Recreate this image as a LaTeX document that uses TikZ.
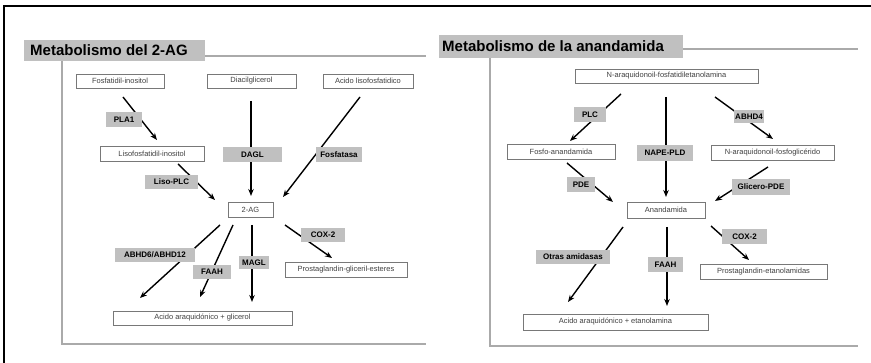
\documentclass[tikz,border=0pt]{standalone}
\usepackage{fontspec}
\setmainfont{Liberation Sans}
\usepackage{tikz}
\usetikzlibrary{arrows.meta,positioning,calc}
\usepackage{xcolor}

\definecolor{labgray}{RGB}{192,192,192}
\definecolor{linegray}{RGB}{170,170,170}
\definecolor{boxgray}{RGB}{120,120,120}

\tikzset{
  sbox/.style={draw=boxgray, fill=white, line width=0.8pt, inner sep=0pt,
    text=black!75, font=\fontsize{7.5}{8}\selectfont},
  enz/.style={fill=labgray, inner sep=0pt, font=\fontsize{8}{9}\selectfont\bfseries},
  arr/.style={-{Stealth[length=7pt,width=5.5pt]}, line width=1.4pt},
  panel/.style={draw=linegray, line width=1.5pt},
  ttl/.style={fill=labgray, inner sep=0pt, font=\fontsize{15}{16}\selectfont\bfseries}
}

\begin{document}
\begin{tikzpicture}[x=1pt,y=-1pt]
  \useasboundingbox (0,0) rectangle (871,363);
  % outer frame
  \draw[line width=2.5pt] (4,363) -- (4,6) -- (871,6);

  % ---- left panel: 2-AG
  \node[ttl, minimum width=181, minimum height=21] (t1) at (114.5,50.5) {};
  \node[ttl, fill=none, anchor=west] (t1txt) at (30,50.5) {Metabolismo del 2-AG};
  \draw[panel] (t1.east |- 0,56) -- (426,56);
  \draw[panel] (62,61) -- (62,344) -- (426,344);

  % substrates and products
  \node[sbox, minimum width=88, minimum height=14] (fi) at (120,81) {Fosfatidil-inositol};
  \node[sbox, minimum width=89, minimum height=14] (dag) at (251.5,81) {Diacilglicerol};
  \node[sbox, minimum width=90, minimum height=14] (alf) at (368,81) {Acido lisofosfatidico};
  \node[sbox, minimum width=104, minimum height=15] (lfi) at (152,153.5) {Lisofosfatidil-inositol};
  \node[sbox, minimum width=45, minimum height=15] (ag) at (250.5,209.5) {2-AG};
  \node[sbox, minimum width=122, minimum height=15] (pge) at (346,269.5) {Prostaglandin-gliceril-esteres};
  \node[sbox, minimum width=179, minimum height=14] (aag) at (202.5,318) {Acido araquidónico + glicerol};

  % arrow ends
  \coordinate (pla1a) at (123,97);   \coordinate (pla1b) at (157,140);
  \coordinate (dagla) at (251,101);  \coordinate (daglb) at (251,196);
  \coordinate (fosfa) at (360,97);   \coordinate (fosfb) at (283,197);
  \coordinate (lplca) at (178,164);  \coordinate (lplcb) at (215,200);
  \coordinate (abhda) at (220,225);  \coordinate (abhdb) at (140,298);
  \coordinate (faaha) at (233,225);  \coordinate (faahb) at (200,297);
  \coordinate (magla) at (252,225);  \coordinate (maglb) at (252,302);
  \coordinate (coxa) at (285,225);   \coordinate (coxb) at (332,258);
  \foreach \s in {pla1,dagl,fosf,lplc,abhd,faah,magl,cox}
    \draw[arr] (\s a) -- (\s b);

  % enzymes
  \node[enz, minimum width=36, minimum height=15] (pla1) at (124,119.5) {PLA1};
  \node[enz, minimum width=59, minimum height=15] (dagl) at (252.5,154.5) {DAGL};
  \node[enz, minimum width=46, minimum height=15] (fosf) at (339,154.5) {Fosfatasa};
  \node[enz, minimum width=53, minimum height=14] (lplc) at (171.5,182) {Liso-PLC};
  \node[enz, minimum width=80, minimum height=14] (abhd) at (155,255) {ABHD6/ABHD12};
  \node[enz, minimum width=38, minimum height=14] (faah) at (212,272) {FAAH};
  \node[enz, minimum width=30, minimum height=13] (magl) at (254,262.5) {MAGL};
  \node[enz, minimum width=44, minimum height=14] (cox) at (323,235) {COX-2};

  % ---- right panel: anandamida
  \node[ttl, minimum width=244, minimum height=23] (t2) at (561,46.5) {};
  \node[ttl, fill=none, anchor=west] (t2txt) at (442,46.5) {Metabolismo de la anandamida};
  \draw[panel] (t2.east |- 0,49) -- (858,49);
  \draw[panel] (490,58) -- (490,346) -- (858,346);

  \node[sbox, minimum width=183, minimum height=14] (nape) at (666.5,76) {N-araquidonoil-fosfatidiletanolamina};
  \node[sbox, minimum width=108, minimum height=15] (fa) at (561,151.5) {Fosfo-anandamida};
  \node[sbox, minimum width=123, minimum height=15] (nafg) at (772.5,152.5) {N-araquidonoil-fosfoglicérido};
  \node[sbox, minimum width=78, minimum height=16] (ana) at (666,210) {Anandamida};
  \node[sbox, minimum width=127, minimum height=15] (pea) at (763.5,271.5) {Prostaglandin-etanolamidas};
  \node[sbox, minimum width=185, minimum height=16] (aae) at (615.5,322) {Acido araquidónico + etanolamina};

  \coordinate (plca) at (621,94);    \coordinate (plcb) at (570,141);
  \coordinate (napda) at (666,97);   \coordinate (napdb) at (666,197);
  \coordinate (abh4a) at (715,97);   \coordinate (abh4b) at (773,139);
  \coordinate (pdea) at (567,163);   \coordinate (pdeb) at (613,202);
  \coordinate (gpdea) at (768,167);  \coordinate (gpdeb) at (715,201);
  \coordinate (otraa) at (623,227);  \coordinate (otrab) at (568,302);
  \coordinate (faah2a) at (667,227); \coordinate (faah2b) at (667,306);
  \coordinate (cox2a) at (711,226);  \coordinate (cox2b) at (749,260);
  \foreach \s in {plc,napd,abh4,pde,gpde,otra,faah2,cox2}
    \draw[arr] (\s a) -- (\s b);

  \node[enz, minimum width=32, minimum height=15] (plc) at (590,114.5) {PLC};
  \node[enz, minimum width=56, minimum height=16] (napd) at (665,153) {NAPE-PLD};
  \node[enz, minimum width=30, minimum height=13] (abh4) at (749,116.5) {ABHD4};
  \node[enz, minimum width=28, minimum height=15] (pde) at (581,184.5) {PDE};
  \node[enz, minimum width=58, minimum height=16] (gpde) at (761,187) {Glicero-PDE};
  \node[enz, minimum width=74, minimum height=14] (otra) at (573,257) {Otras amidasas};
  \node[enz, minimum width=35, minimum height=15] (faah2) at (665.5,264.5) {FAAH};
  \node[enz, minimum width=45, minimum height=15] (cox2) at (744.5,236.5) {COX-2};
\end{tikzpicture}
\end{document}
